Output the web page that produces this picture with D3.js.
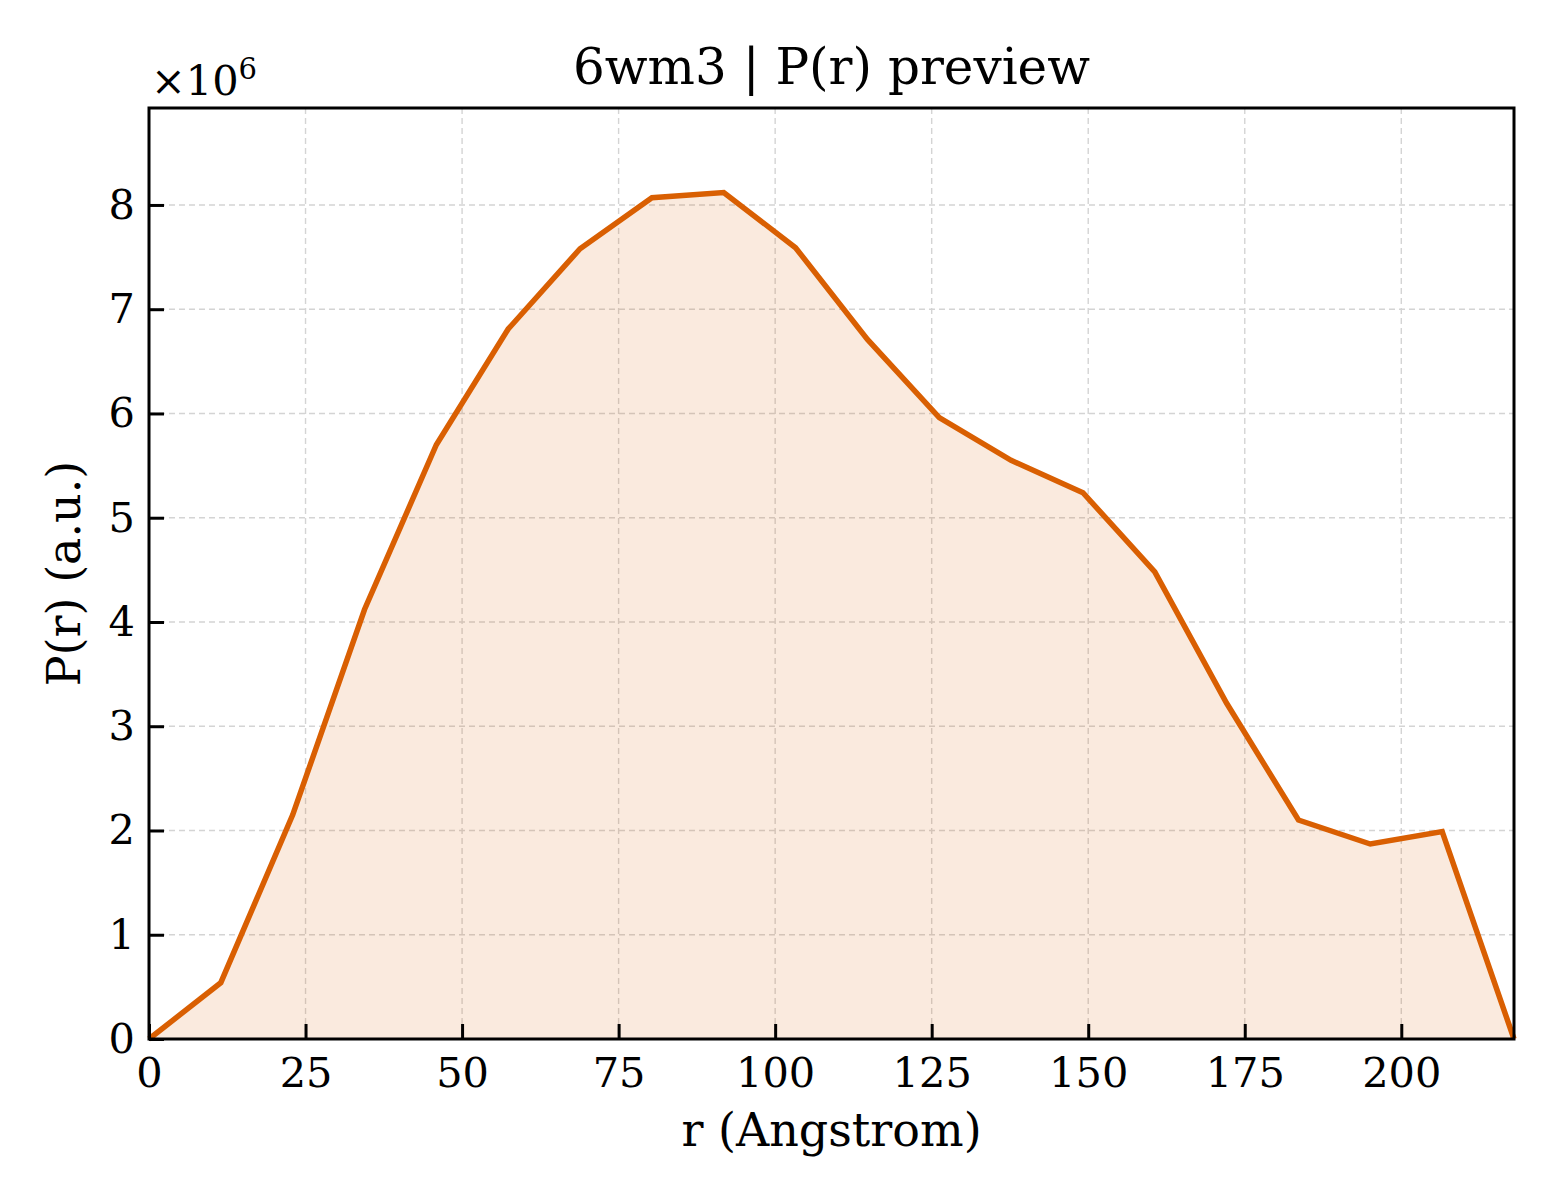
<!DOCTYPE html>
<html><head><meta charset="utf-8">
<script src="https://cdn.jsdelivr.net/npm/d3@7"></script>
<style>body{margin:0;background:#fff}svg text{font-family:"DejaVu Serif",serif;fill:#000}</style>
</head><body>
<svg id="c" width="1560" height="1200"></svg>
<script>
const rValues = [0,11.47,22.95,34.42,45.89,57.37,68.84,80.32,91.79,103.26,114.74,126.21,137.68,149.16,160.63,172.11,183.58,195.05,206.53,218];
const pValues = [0,0.54,2.15,4.12,5.70,6.81,7.58,8.07,8.12,7.59,6.71,5.96,5.55,5.24,4.48,3.22,2.10,1.87,1.99,0];
const xTicks = [0,25,50,75,100,125,150,175,200];
const yTicks = [0,1,2,3,4,5,6,7,8];
const titleText = "6wm3 | P(r) preview";
const xLabel = "r (Angstrom)";
const yLabel = "P(r) (a.u.)";

const svg = d3.select("#c");
const L=149,R=1514,T=108,B=1039;
const x = d3.scaleLinear().domain([0,218]).range([L,R]);
const y = d3.scaleLinear().domain([0,8.93]).range([B,T]);
const data = rValues.map((r,i)=>({r,p:pValues[i]}));

// grid
const g = svg.append("g");
g.selectAll(".gx").data(xTicks).join("line")
 .attr("x1",d=>x(d)).attr("x2",d=>x(d)).attr("y1",T).attr("y2",B)
 .attr("stroke","#d4d4d4").attr("stroke-width",1.4).attr("stroke-dasharray","6,4");
g.selectAll(".gy").data(yTicks).join("line")
 .attr("y1",d=>y(d)).attr("y2",d=>y(d)).attr("x1",L).attr("x2",R)
 .attr("stroke","#d4d4d4").attr("stroke-width",1.4).attr("stroke-dasharray","6,4");

svg.append("path").datum(data)
 .attr("d",d3.area().x(d=>x(d.r)).y0(y(0)).y1(d=>y(d.p)))
 .attr("fill","#d95f02").attr("fill-opacity",0.13);
svg.append("path").datum(data)
 .attr("d",d3.line().x(d=>x(d.r)).y(d=>y(d.p)))
 .attr("fill","none").attr("stroke","#d95f02").attr("stroke-width",5.5).attr("stroke-linejoin","miter");

// axes
const xa = svg.append("g").attr("transform",`translate(0,${B})`)
 .call(d3.axisBottom(x).tickValues(xTicks).tickSizeInner(-15).tickSizeOuter(0).tickPadding(19).tickFormat(d3.format("d")));
const ya = svg.append("g").attr("transform",`translate(${L},0)`)
 .call(d3.axisLeft(y).tickValues(yTicks).tickSizeInner(-15).tickSizeOuter(0).tickPadding(14).tickFormat(d3.format("d")));
[xa,ya].forEach(a=>{a.select(".domain").remove();a.selectAll("line").attr("stroke","#000").attr("stroke-width",3);
 a.selectAll("text").style("font-family","DejaVu Serif").attr("font-size",41.5);});
svg.append("rect").attr("x",L).attr("y",T).attr("width",R-L).attr("height",B-T)
 .attr("fill","none").attr("stroke","#000").attr("stroke-width",3);

svg.append("text").attr("x",(L+R)/2).attr("y",84).attr("text-anchor","middle").attr("font-size",50).text(titleText);
svg.append("text").attr("x",(L+R)/2).attr("y",1146).attr("text-anchor","middle").attr("font-size",46).text(xLabel);
svg.append("text").attr("transform",`translate(80,${(T+B)/2}) rotate(-90)`).attr("text-anchor","middle").attr("font-size",46).text(yLabel);
const m = svg.append("text").attr("x",151).attr("y",95).attr("font-size",41.5);
m.append("tspan").text("×10");
m.append("tspan").attr("dy",-16).attr("font-size",29).text("6");
</script>
</body></html>
